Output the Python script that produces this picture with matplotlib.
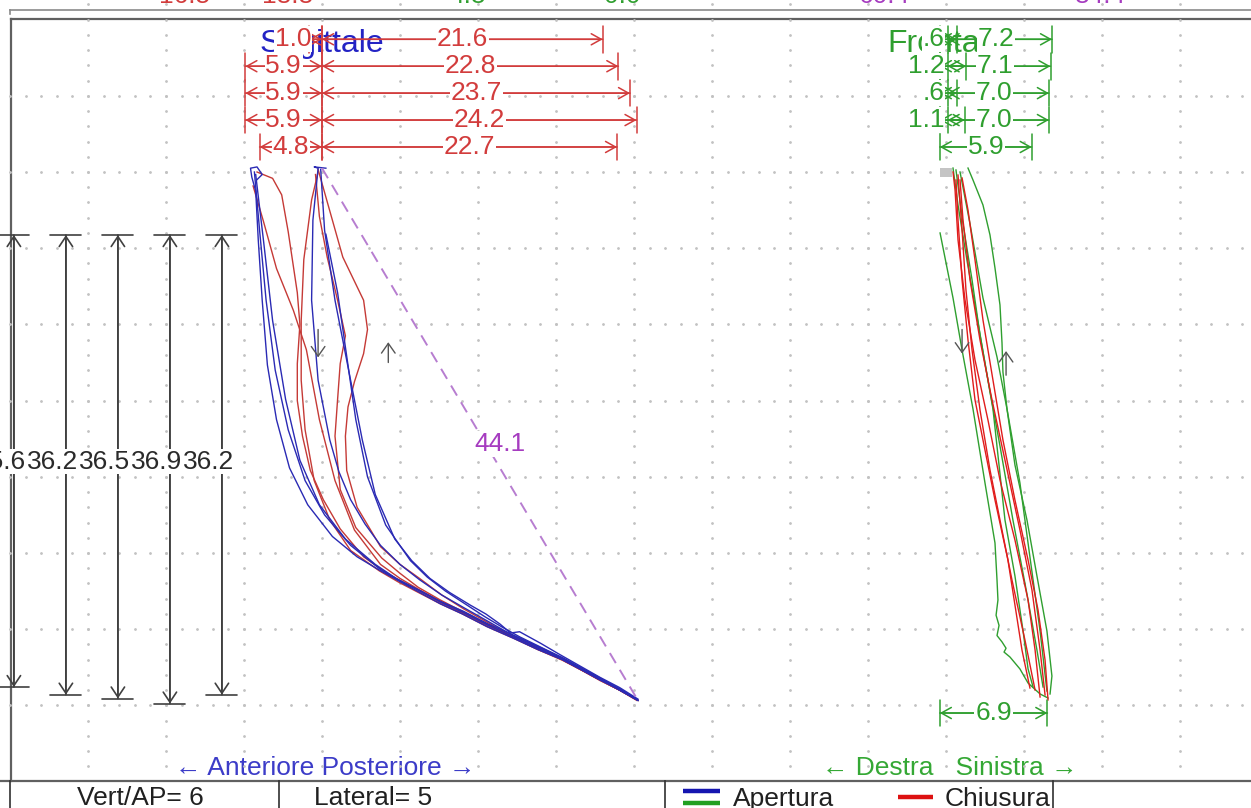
import matplotlib.pyplot as plt
from matplotlib.patches import Rectangle
import numpy as np

plt.rcParams['font.family'] = ['Liberation Sans', 'DejaVu Sans']

# measured values (mm)
sag_back = [1.0, 5.9, 5.9, 5.9, 4.8]
sag_fwd = [21.6, 22.8, 23.7, 24.2, 22.7]
front_dev = [0.6, 1.2, 0.6, 1.1]
front_lat = [7.2, 7.1, 7.0, 7.0]
front_top = 5.9
front_bottom = 6.9
openings = [35.6, 36.2, 36.5, 36.9, 36.2]
diagonal = 44.1
vert_ap = 6
lateral = 5
top_cut = [("16.5", 185, 'red'), ("18.8", 288, 'red'), ("4.8", 468, 'green'),
           ("0.0", 622, 'green'), ("60.4", 884, 'purple'), ("84.4", 1100, 'purple')]

# sagittal traces, x = antero-posterior mm, y = vertical mm (down = opening)
sag_open = [
    [(-5.0, 0.6), (-4.6, 0.2), (-5.0, -0.4), (-5.5, -0.3), (-5.4, 0.4), (-5.1, 1.5), (-4.9, 5.4),
     (-4.6, 10.1), (-4.2, 15.2), (-3.5, 19.5), (-2.5, 23.3), (-1.1, 26.2), (0.8, 28.7), (2.7, 30.3),
     (4.5, 31.4), (5.9, 32.2), (7.5, 33.1), (9.1, 34.0), (10.8, 34.8), (12.7, 35.8), (14.7, 36.7),
     (16.6, 37.6), (18.5, 38.4), (20.0, 39.2), (21.4, 40.0), (22.9, 40.8), (24.3, 41.6)],
    [(-5.2, 0.0), (-4.8, 4.6), (-4.3, 10.1), (-3.6, 15.6), (-2.6, 20.3), (-1.3, 24.3), (0.2, 27.0),
     (2.2, 29.4), (4.5, 31.3), (6.0, 32.2), (7.6, 33.0), (9.2, 33.9), (10.9, 34.7), (12.8, 35.7),
     (14.7, 36.6), (16.6, 37.5), (18.5, 38.4), (21.4, 40.0), (22.9, 40.7), (24.2, 41.5)],
    [(-5.1, 0.2), (-4.5, 5.4), (-3.8, 11.7), (-2.8, 17.9), (-1.7, 22.7), (-0.2, 26.2), (1.8, 28.9),
     (4.1, 30.9), (5.7, 32.0), (7.4, 32.9), (9.1, 33.8), (10.9, 34.6), (12.8, 35.6), (14.8, 36.5),
     (16.7, 37.4), (18.6, 38.3), (21.5, 39.9), (22.9, 40.8), (24.3, 41.6)],
    [(0.3, -0.3), (-0.6, -0.4), (-0.3, -0.3), (-0.7, 3.8), (-0.8, 10.1), (-0.3, 16.4), (0.6, 21.1),
     (1.3, 23.6), (2.2, 25.8), (3.3, 27.7), (4.5, 29.4), (6.0, 30.9), (7.5, 32.1), (9.2, 33.3),
     (10.9, 34.3), (12.8, 35.4), (14.7, 36.5), (16.6, 37.4), (18.5, 38.3), (21.4, 39.9),
     (22.9, 40.7), (24.3, 41.6)],
    [(-0.1, -0.2), (0.2, 4.6), (1.0, 10.1), (2.2, 16.4), (3.1, 21.1), (4.1, 25.4), (5.6, 28.9),
     (6.9, 30.6), (8.3, 32.0), (9.8, 33.1), (11.4, 34.1), (12.6, 34.8), (13.7, 35.6), (14.5, 36.3),
     (15.2, 36.2), (16.8, 37.1), (18.3, 38.0), (21.4, 39.8), (22.9, 40.6), (24.3, 41.5)],
    [(0.3, 4.9), (1.2, 9.5), (1.9, 14.5), (2.6, 19.5), (3.5, 24.0), (4.9, 27.8), (6.8, 30.6),
     (8.1, 31.9), (9.5, 33.0), (11.0, 34.0), (12.5, 35.0), (13.8, 35.8), (15.2, 36.6),
     (16.8, 37.4), (18.4, 38.2), (21.4, 39.9), (22.9, 40.7), (24.3, 41.6)],
]
sag_close = [
    [(-5.0, 0.0), (-3.8, 0.5), (-3.1, 1.8), (-2.6, 4.7), (-1.9, 9.5), (-1.7, 12.0), (-1.9, 15.1),
     (-1.9, 18.0), (-1.5, 20.8), (-0.9, 23.5), (0.1, 25.8), (1.4, 28.1), (3.2, 30.3), (5.0, 31.6),
     (7.5, 33.0), (9.1, 33.9), (10.8, 34.75), (12.7, 35.7), (14.7, 36.65), (16.6, 37.6),
     (18.5, 38.45), (20.0, 39.25), (21.4, 40.05), (22.9, 40.8), (24.3, 41.6)],
    [(-0.3, -0.2), (1.6, 6.7), (3.2, 10.1), (3.5, 12.4), (3.2, 14.3), (2.5, 16.5), (2.0, 18.5),
     (1.8, 20.8), (1.9, 23.5), (2.7, 26.4), (4.5, 29.5), (6.0, 30.9), (7.5, 32.0), (9.2, 33.3),
     (10.9, 34.4), (12.8, 35.5), (14.7, 36.6), (16.6, 37.5), (18.5, 38.4), (21.4, 40.0),
     (22.9, 40.8), (24.3, 41.6)],
    [(-0.5, 0.2), (-0.2, 3.5), (0.4, 6.7), (1.2, 10.1), (1.8, 12.9), (1.4, 15.1), (1.2, 17.9),
     (1.0, 20.8), (1.4, 25.0), (2.6, 28.0), (4.6, 30.4), (6.0, 31.6), (7.4, 32.7), (9.1, 33.7),
     (10.8, 34.6), (12.7, 35.6), (14.6, 36.6), (16.6, 37.5), (18.5, 38.4), (21.4, 40.0),
     (22.9, 40.8), (24.2, 41.6)],
    [(-5.3, 1.1), (-4.5, 3.9), (-3.5, 7.6), (-2.2, 10.9), (-1.2, 14.0), (-0.2, 19.5), (1.0, 24.3),
     (2.5, 28.2), (4.5, 30.9), (6.0, 32.0), (7.5, 32.9), (9.1, 33.8), (10.8, 34.7), (12.7, 35.6),
     (14.7, 36.6), (16.6, 37.5), (18.5, 38.4), (21.4, 40.0), (22.9, 40.8), (24.3, 41.6)],
    [(-0.3, 0.0), (-0.8, 2.2), (-1.4, 6.9), (-1.6, 11.7), (-1.6, 16.4), (-1.3, 20.3), (-0.6, 24.3),
     (0.6, 27.4), (2.2, 29.8), (4.4, 31.4), (5.9, 32.3), (7.4, 33.1), (9.1, 34.0), (10.8, 34.8),
     (12.7, 35.8), (14.7, 36.7), (16.6, 37.6), (18.5, 38.4), (21.4, 40.0), (22.9, 40.8),
     (24.3, 41.6)],
]

# frontal traces, x = lateral mm, y = vertical mm
front_open = [
    [(-0.38, 4.8), (0.45, 9.92), (1.03, 14.02), (1.73, 18.66), (2.5, 24.49), (3.14, 29.21),
     (3.27, 32.13), (3.33, 33.7), (3.21, 34.9), (3.4, 35.7), (3.27, 36.5), (3.59, 37.0),
     (3.85, 37.5), (3.72, 37.8), (4.1, 38.19), (4.74, 39.13), (5.26, 40.24), (6.03, 41.1),
     (6.54, 41.42)],
    [(1.41, -0.31), (1.73, 0.63), (2.37, 2.6), (2.82, 4.96), (3.14, 7.56), (3.46, 10.47),
     (3.59, 13.46), (3.65, 15.75), (3.91, 18.66), (4.42, 23.07), (5.19, 27.4), (5.83, 31.81),
     (6.47, 36.14), (6.79, 39.69), (6.67, 41.1)],
    [(0.45, -0.31), (0.77, 2.6), (1.35, 7.0), (1.99, 11.42), (2.69, 16.38), (3.46, 21.57),
     (4.29, 27.4), (5.19, 33.23), (5.83, 37.64), (6.22, 40.55)],
    [(0.9, 0.0), (1.54, 4.09), (2.37, 9.92), (3.27, 14.57), (3.91, 18.66), (4.74, 24.49),
     (5.38, 30.31), (6.03, 36.14), (6.47, 40.87)],
    [(0.64, -0.16), (1.09, 4.09), (1.67, 8.5), (2.18, 12.83), (3.01, 18.66), (3.78, 27.4),
     (4.42, 31.81), (4.94, 36.14), (5.26, 39.13), (5.58, 40.55)],
]
front_close = [
    [(6.03, 41.34), (5.71, 37.64), (5.26, 33.7), (4.42, 28.98), (3.46, 24.25), (2.69, 19.53),
     (1.86, 14.8), (1.22, 10.08), (0.77, 5.35), (0.58, 1.42), (0.45, 0.0)],
    [(6.35, 41.18), (6.03, 37.64), (5.51, 32.91), (4.74, 28.19), (3.78, 22.68), (2.95, 17.95),
     (2.18, 13.23), (1.54, 8.5), (1.09, 3.78), (0.9, 0.63)],
    [(5.71, 40.79), (5.06, 36.85), (4.23, 32.13), (3.46, 27.4), (2.82, 23.46), (2.18, 18.74),
     (1.67, 14.02), (1.28, 9.29), (1.03, 4.57), (0.77, 0.24)],
    [(6.54, 41.57), (6.35, 38.43), (5.9, 34.49), (5.26, 30.55), (4.42, 25.83), (3.65, 21.1),
     (3.01, 16.38), (2.37, 11.65), (1.86, 6.93), (1.41, 2.99), (1.03, 0.47)],
    [(5.38, 40.63), (4.87, 37.64), (3.97, 30.55), (3.14, 25.83), (2.37, 21.1), (1.86, 17.95),
     (1.41, 13.23), (1.03, 8.5), (0.77, 3.78), (0.64, 0.63)],
]

BLUE = '#2a2ab4'
TRACE_RED = '#c53a36'
DIM_RED = '#d23c3c'
FRONT_RED = '#e01c1c'
GREEN = '#2f9f2f'
PURPLE = '#a63cc0'
GRAY = '#404040'
cut_colors = {'red': DIM_RED, 'green': GREEN, 'purple': PURPLE}

W, H = 1251, 808
SAG_X0, SAG_Y0 = 322, 172
SX, SY = 13.0, 12.7
FRO_X0, FX = 946, 15.6
FS = 19

fig = plt.figure(figsize=(W / 100, H / 100), dpi=100, facecolor='white')
base = fig.add_axes([0, 0, 1, 1])
base.set_xlim(0, W)
base.set_ylim(H, 0)
base.axis('off')

sag = fig.add_axes([0, 0, 1, 1])
sag.set_xlim(-SAG_X0 / SX, (W - SAG_X0) / SX)
sag.set_ylim((H - SAG_Y0) / SY, -SAG_Y0 / SY)
sag.axis('off')
sag.patch.set_alpha(0)

fro = fig.add_axes([0, 0, 1, 1])
fro.set_xlim(-FRO_X0 / FX, (W - FRO_X0) / FX)
fro.set_ylim((H - SAG_Y0) / SY, -SAG_Y0 / SY)
fro.axis('off')
fro.patch.set_alpha(0)

# frame, top strip and table
base.plot([10, W], [10, 10], color='#8a8a8a', lw=1.2)
base.plot([10, 10], [10, 14], color='#8a8a8a', lw=1.2)
base.plot([11, W], [19, 19], color='#606060', lw=1.6)
base.plot([11, 11], [19, 781], color='#606060', lw=1.6)
base.plot([0, W], [781, 781], color='#606060', lw=1.6)
for xd in [10, 279, 665, 1053]:
    base.plot([xd, xd], [781, H], color='#303030', lw=1.2)
for s, x, c in top_cut:
    base.text(x, -4, s, color=cut_colors[c], fontsize=FS, ha='center', va='center')

# dotted grid every 6 mm with dots every 1.2 mm
dot_x = np.arange(-20, 60) * 1.2
dot_y = np.arange(-12, 40) * 1.2
for gy in np.arange(-1, 8) * 6:
    sag.plot(dot_x, np.full_like(dot_x, gy), ls='none', marker='.', ms=2.0, color='#c2c2c2')
for gx in np.arange(-3, 12) * 6:
    sag.plot(np.full_like(dot_y, gx), dot_y, ls='none', marker='.', ms=2.0, color='#c2c2c2')


def dim(ax, x0, x1, y, color, lw=1.1):
    for style in ['<->, head_length=0.45, head_width=0.25', '|-|, widthA=0.6, widthB=0.6']:
        ax.annotate('', xy=(x1, y), xytext=(x0, y),
                    arrowprops=dict(arrowstyle=style, color=color, lw=lw,
                                    shrinkA=0, shrinkB=0, mutation_scale=16))


def vdim(ax, x, y0, y1, color):
    for style in ['<->, head_length=0.45, head_width=0.3', '|-|, widthA=0.7, widthB=0.7']:
        ax.annotate('', xy=(x, y1), xytext=(x, y0),
                    arrowprops=dict(arrowstyle=style, color=color, lw=1.2,
                                    shrinkA=0, shrinkB=0, mutation_scale=16))


def fmt(v):
    s = f"{v:.1f}"
    return s[1:] if s.startswith('0') else s


box = dict(facecolor='white', edgecolor='none', pad=0.5)
row_y = [-2.12 * (5 - i) + 0.15 for i in range(5)]

# sagittal panel
sag.text(0, -10.1, 'Sagittale', color='#2323c4', fontsize=23, ha='center', va='center')
for pts in sag_close:
    p = np.array(pts)
    sag.plot(p[:, 0], p[:, 1], color=TRACE_RED, lw=1.0)
for pts in sag_open:
    p = np.array(pts)
    sag.plot(p[:, 0], p[:, 1], color=BLUE, lw=1.0)
for y, lb, rf in zip(row_y, sag_back, sag_fwd):
    dim(sag, -lb, 0, y, DIM_RED)
    dim(sag, 0, rf, y, DIM_RED)
    sag.text(-max(lb / 2, 2.2), y, fmt(lb), color=DIM_RED, fontsize=FS, ha='center',
             va='center', bbox=box)
    sag.text(rf / 2, y, fmt(rf), color=DIM_RED, fontsize=FS, ha='center', va='center', bbox=box)

sag.plot([0, 24.3], [-0.3, 41.6], color='#b77dd0', lw=1.4, ls=(0, (6, 4)))
sag.text(13.7, 21.4, fmt(diagonal), color=PURPLE, fontsize=FS, ha='center', va='center', bbox=box)

for i, v in enumerate(openings):
    vdim(sag, -23.7 + 4.0 * i, 4.96, 4.96 + v, GRAY)
for i, v in enumerate(openings):
    sag.text(-24.7 + 4.0 * i, 22.8, fmt(v), color='#2a2a2a', fontsize=FS, ha='center',
             va='center', bbox=box)

for ax, x, y0, y1 in [(sag, -0.3, 12.4, 14.6), (sag, 5.1, 15.0, 13.4),
                      (fro, 1.03, 12.4, 14.3), (fro, 3.85, 16.0, 14.1)]:
    ax.annotate('', xy=(x, y1), xytext=(x, y0),
                arrowprops=dict(arrowstyle='->, head_length=0.5, head_width=0.35',
                                color='#555555', lw=1.0, shrinkA=0, shrinkB=0, mutation_scale=14))

# frontal panel
fro.add_patch(Rectangle((-0.38, -0.31), 0.76, 0.7, color='#c4c4c4', lw=0))
fro.text(0, -10.1, 'Frontale', color=GREEN, fontsize=23, ha='center', va='center')
for pts in front_open:
    p = np.array(pts)
    fro.plot(p[:, 0], p[:, 1], color=GREEN, lw=1.0)
for pts in front_close:
    p = np.array(pts)
    fro.plot(p[:, 0], p[:, 1], color=FRONT_RED, lw=1.0)
for y, ld, rl in zip(row_y, front_dev, front_lat):
    dim(fro, 0.1, 0.1 + ld, y, GREEN)
    dim(fro, -0.4, -0.4 + rl, y, GREEN)
    fro.text(-0.1, y, fmt(ld), color=GREEN, fontsize=FS, ha='right', va='center', bbox=box)
    fro.text(-0.4 + rl / 2, y, fmt(rl), color=GREEN, fontsize=FS, ha='center', va='center',
             bbox=box)
dim(fro, -0.4, -0.4 + front_top, row_y[4], GREEN)
fro.text(-0.4 + front_top / 2, row_y[4], fmt(front_top), color=GREEN, fontsize=FS,
         ha='center', va='center', bbox=box)
dim(fro, -0.4, -0.4 + front_bottom, 42.6, GREEN)
fro.text(-0.4 + front_bottom / 2, 42.6, fmt(front_bottom), color=GREEN, fontsize=FS,
         ha='center', va='center', bbox=box)

# axis captions and table
base.text(325, 768, '\u2190 Anteriore Posteriore \u2192', color='#3c3cc8', fontsize=FS,
          ha='center', va='center')
base.text(950, 768, '\u2190 Destra   Sinistra \u2192', color='#35a835', fontsize=FS,
          ha='center', va='center')
base.text(140, 798, f'Vert/AP= {vert_ap}', color='#202020', fontsize=FS, ha='center', va='center')
base.text(373, 798, f'Lateral= {lateral}', color='#202020', fontsize=FS, ha='center', va='center')
base.plot([683, 720], [791, 791], color='#1515b0', lw=3.2, solid_capstyle='butt')
base.plot([683, 720], [803, 803], color='#22a022', lw=3.2, solid_capstyle='butt')
base.plot([898, 933], [797, 797], color='#dd1111', lw=3.2, solid_capstyle='butt')
base.text(733, 799, 'Apertura', color='#202020', fontsize=FS, ha='left', va='center')
base.text(945, 799, 'Chiusura', color='#202020', fontsize=FS, ha='left', va='center')

fig.savefig('out.png', dpi=100, facecolor='white')
